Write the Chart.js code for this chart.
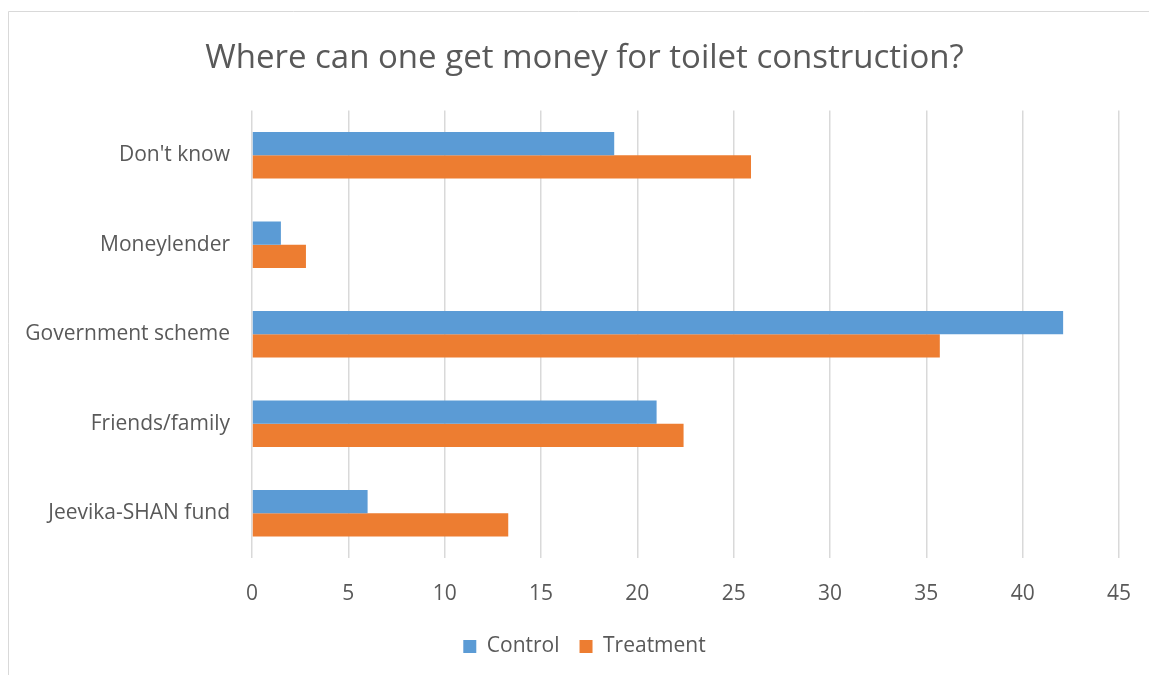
<!DOCTYPE html>
<html>
<head>
<meta charset="utf-8">
<script src="https://cdn.jsdelivr.net/npm/chart.js@4"></script>
<style>
  html, body { margin: 0; padding: 0; background: #ffffff; }
  #wrap { position: relative; width: 1149px; height: 675px; }
  canvas { display: block; }
</style>
</head>
<body>
<div id="wrap"><canvas id="chart" width="1149" height="675"></canvas></div>
<script>
// Survey responses (%), one entry per source of funds
const categories = ["Don't know", "Moneylender", "Government scheme", "Friends/family", "Jeevika-SHAN fund"];
const controlValues = [18.8, 1.5, 42.1, 21.0, 6.0];
const treatmentValues = [25.9, 2.8, 35.7, 22.4, 13.3];
const xTicks = [0, 5, 10, 15, 20, 25, 30, 35, 40, 45];

const TEXT = '#595959';
const GRID = '#d9d9d9';
const FONT = "'Open Sans', 'DejaVu Sans', sans-serif";

// light frame around the chart area
const framePlugin = {
  id: 'frame',
  beforeDraw(chart) {
    const ctx = chart.ctx;
    ctx.save();
    ctx.fillStyle = '#ffffff';
    ctx.fillRect(0, 0, chart.width, chart.height);
    ctx.strokeStyle = '#d9d9d9';
    ctx.lineWidth = 1;
    ctx.beginPath();
    ctx.moveTo(8.5, chart.height);
    ctx.lineTo(8.5, 11.5);
    ctx.lineTo(chart.width, 11.5);
    ctx.stroke();
    ctx.restore();
  }
};

new Chart(document.getElementById('chart'), {
  type: 'bar',
  data: {
    labels: categories,
    datasets: [
      { label: 'Control', data: controlValues, backgroundColor: '#5b9bd5', borderWidth: 0,
        categoryPercentage: 0.52, barPercentage: 1.0 },
      { label: 'Treatment', data: treatmentValues, backgroundColor: '#ed7d31', borderWidth: 0,
        categoryPercentage: 0.52, barPercentage: 1.0 }
    ]
  },
  options: {
    indexAxis: 'y',
    responsive: false,
    animation: false,
    layout: { padding: { left: 20, right: 0, top: 0, bottom: 8 } },
    scales: {
      x: {
        min: 0, max: 45,
        afterBuildTicks(scale) { scale.ticks = xTicks.map(v => ({ value: v })); },
        afterFit(scale) {
          scale.height = 58;
          scale.paddingLeft = 0;
          scale.paddingRight = 0;
        },
        grid: { color: GRID, lineWidth: 1.5, drawTicks: false },
        border: { display: false },
        ticks: { color: TEXT, font: { family: FONT, size: 21 }, padding: 23 }
      },
      y: {
        afterFit(scale) { scale.width = 232; },
        grid: { display: false, drawTicks: false },
        border: { display: false },
        ticks: { color: TEXT, font: { family: FONT, size: 21 }, padding: 22 }
      },
      // empty right-hand margin column
      yRight: {
        type: 'category',
        position: 'right',
        afterFit(scale) { scale.width = 30; },
        grid: { display: false, drawTicks: false },
        border: { display: false },
        ticks: { display: false }
      }
    },
    plugins: {
      title: {
        display: true,
        text: 'Where can one get money for toilet construction?',
        color: TEXT,
        font: { family: FONT, size: 33, weight: 'normal' },
        padding: { top: 39, bottom: 32 }
      },
      legend: {
        position: 'bottom',
        labels: {
          color: TEXT,
          font: { family: FONT, size: 21 },
          boxWidth: 13, boxHeight: 13,
          padding: 20
        }
      },
      tooltip: { enabled: false }
    }
  },
  plugins: [framePlugin]
});
</script>
</body>
</html>
